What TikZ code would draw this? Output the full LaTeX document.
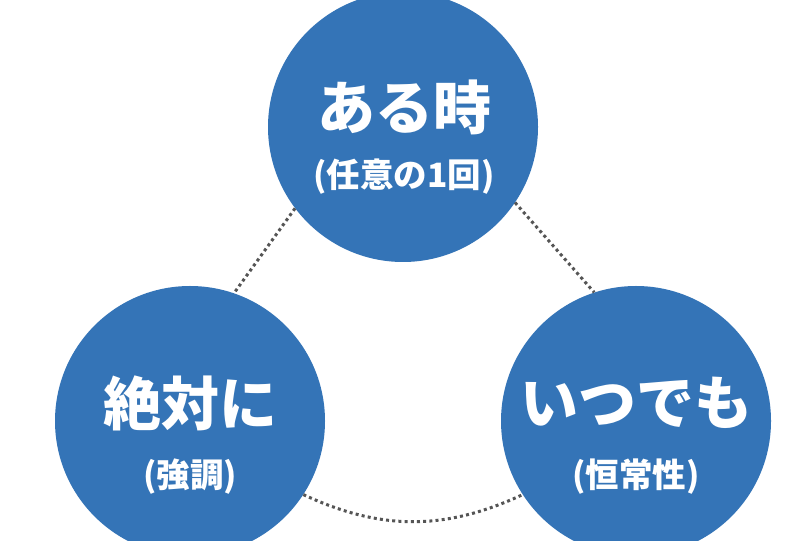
\documentclass[tikz,border=0pt]{standalone}
\usepackage{fontspec}
\newfontfamily\jpfont{Noto Sans CJK JP}
\definecolor{cblue}{RGB}{52,116,183}
\definecolor{dotgray}{RGB}{85,85,85}
\begin{document}
\begin{tikzpicture}[x=1pt,y=1pt,
  bigcirc/.style={circle,fill=cblue,draw=none,minimum size=270pt,inner sep=0pt},
  maintext/.style={text=white,font=\jpfont\bfseries\fontsize{58}{60}\selectfont,inner sep=0pt,anchor=center},
  subtext/.style={text=white,font=\jpfont\bfseries\fontsize{33.5}{36}\selectfont,inner sep=0pt,anchor=center},
  dotline/.style={draw=dotgray,line width=3pt,dash pattern=on 3pt off 3.2pt}]
\useasboundingbox (0,0) rectangle (810,540);
\clip (0,0) rectangle (810,540);
\fill[white] (0,0) rectangle (810,540);
\node[bigcirc] (top) at (403,413) {};
\node[bigcirc] (left) at (190,119) {};
\node[bigcirc] (right) at (636,119) {};
\draw[dotline] (top.217) -- (left.71);
\draw[dotline] (top.326) -- (right.108);
\draw[dotline] (left.-33.5) to[bend right=25] (right.213);
\node[maintext] (topmain) at (404,433) {ある時};
\node[subtext] (topsub) at (404,363) {(任意の1回)};
\node[maintext] (leftmain) at (190,137) {絶対に};
\node[subtext] (leftsub) at (190,63) {(強調)};
\node[maintext] (rightmain) at (636,137) {いつでも};
\node[subtext] (rightsub) at (636,63) {(恒常性)};
\end{tikzpicture}
\end{document}
